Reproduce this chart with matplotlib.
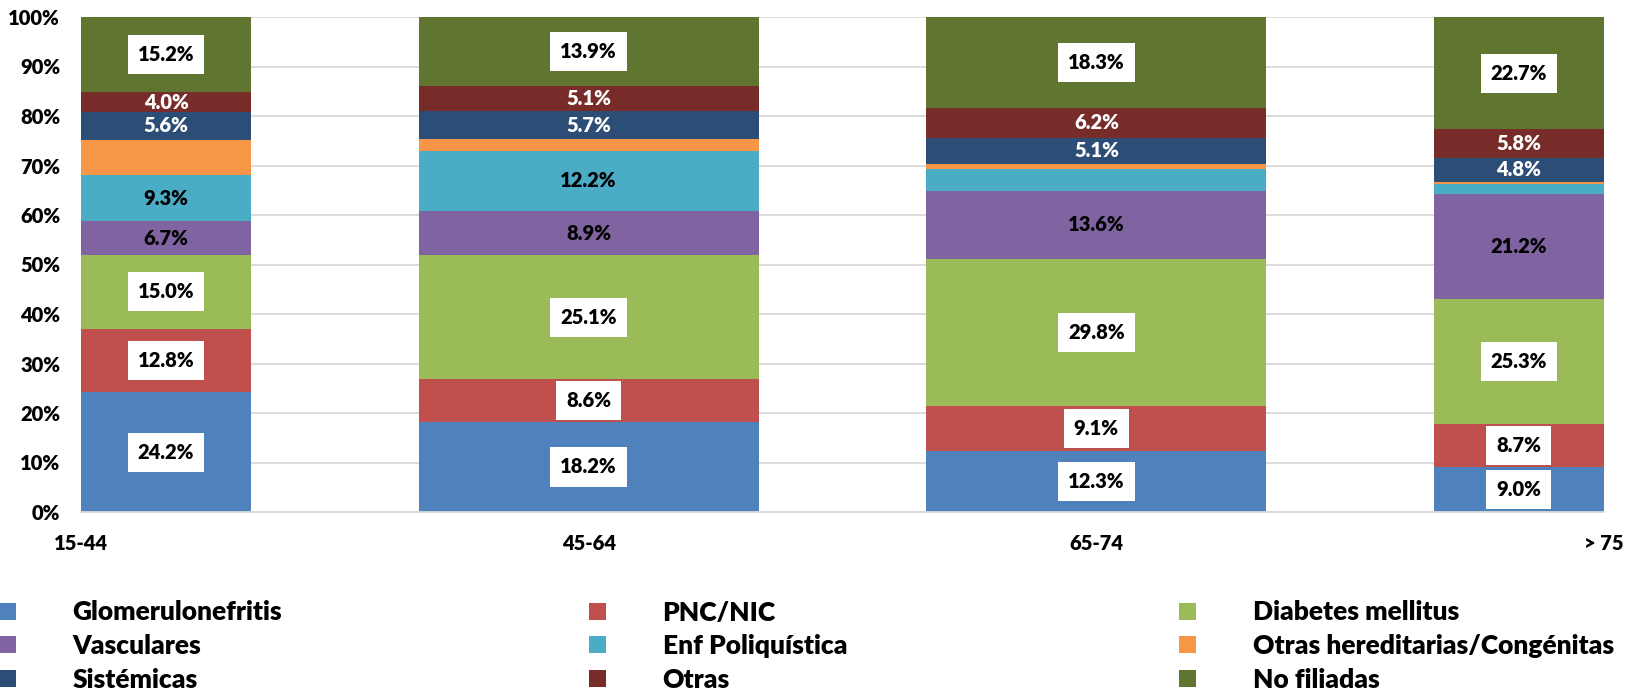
import numpy as np
import matplotlib
matplotlib.use("Agg")
import matplotlib.pyplot as plt
from matplotlib.patches import Patch

plt.rcParams["font.family"] = ["Lato", "DejaVu Sans"]
plt.rcParams["font.weight"] = "heavy"

# Age groups and cause of kidney disease shares (%)
age_groups = ["15-44", "45-64", "65-74", "> 75"]

glomerulonefritis = [24.2, 18.2, 12.3, 9.0]
pnc_nic = [12.8, 8.6, 9.1, 8.7]
diabetes = [15.0, 25.1, 29.8, 25.3]
vasculares = [6.7, 8.9, 13.6, 21.2]
poliquistica = [9.3, 12.2, 4.5, 2.1]
otras_hereditarias = [7.2, 2.3, 1.1, 0.4]
sistemicas = [5.6, 5.7, 5.1, 4.8]
otras = [4.0, 5.1, 6.2, 5.8]
no_filiadas = [15.2, 13.9, 18.3, 22.7]

series_names = [
    "Glomerulonefritis", "PNC/NIC", "Diabetes mellitus",
    "Vasculares", "Enf Poliquística", "Otras hereditarias/Congénitas",
    "Sistémicas", "Otras", "No filiadas",
]
series_values = [
    glomerulonefritis, pnc_nic, diabetes,
    vasculares, poliquistica, otras_hereditarias,
    sistemicas, otras, no_filiadas,
]
colors = [
    "#4F81BD", "#C0504D", "#9BBB59",
    "#8064A2", "#4BACC6", "#F79646",
    "#2C4D75", "#772C2A", "#5F7530",
]
# how each series shows its value: boxed, dark, light or hidden
label_style = ["box", "box", "box", "dark", "dark", None, "light", "light", "box"]
# smallest value that still gets a label, per series
label_min = [0, 0, 0, 0, 5, 0, 0, 0, 0]
WEIGHT = "heavy"

W, H = 1629, 691
fig = plt.figure(figsize=(W / 100, H / 100), dpi=100)
ax = fig.add_axes([81 / W, 1 - 512 / H, (1604 - 81) / W, (512 - 17) / H])

x = np.arange(len(age_groups))
bar_w = 0.67
xlim = (0, len(age_groups) - 1)
bottom = np.zeros(len(age_groups))

for name, vals, col, style, vmin in zip(series_names, series_values, colors,
                                        label_style, label_min):
    vals = np.asarray(vals)
    ax.bar(x, vals, bar_w, bottom=bottom, color=col, label=name, zorder=2)
    if style is not None:
        for xi, v, b in zip(x, vals, bottom):
            if v < vmin:
                continue
            # centre the label on the part of the bar inside the axes
            lo = max(xi - bar_w / 2, xlim[0])
            hi = min(xi + bar_w / 2, xlim[1])
            kw = dict(ha="center", va="center", fontsize=14.5,
                      fontweight=WEIGHT, zorder=4)
            if style == "box":
                kw["bbox"] = dict(boxstyle="square,pad=0.5", fc="white", ec="none")
                kw["color"] = "black"
            elif style == "dark":
                kw["color"] = "black"
            else:
                kw["color"] = "white"
            ax.text((lo + hi) / 2, b + v / 2, f"{v:.1f}%", **kw)
    bottom += vals

ax.set_xlim(*xlim)
ax.set_ylim(0, 100)
ax.set_xticks(x)
ax.set_xticklabels(age_groups)
ax.set_yticks(np.arange(0, 101, 10))
ax.set_yticklabels([f"{v}%" for v in range(0, 101, 10)])
ax.tick_params(axis="y", length=0, pad=15, labelsize=14.5)
ax.tick_params(axis="x", length=0, pad=16, labelsize=14.5)
for lab in ax.get_xticklabels() + ax.get_yticklabels():
    lab.set_fontweight(WEIGHT)

ax.yaxis.grid(True, color="#D9D9D9", lw=1.3)
ax.set_axisbelow(True)
for s in ["top", "right", "left"]:
    ax.spines[s].set_visible(False)
ax.spines["bottom"].set_color("#D9D9D9")
ax.spines["bottom"].set_linewidth(1.3)

# legend: three columns of three entries, laid out row by row
handles = [Patch(facecolor=c, edgecolor="none") for c in colors]
col_x = [-1, 589, 1179]
for i, cx in enumerate(col_x):
    fig.legend(handles[i::3], series_names[i::3], loc="center left",
               bbox_to_anchor=(cx / W, 1 - 646 / H), frameon=False,
               prop=dict(weight=WEIGHT, size=19),
               handlelength=0.64, handleheight=0.64, handletextpad=2.15,
               labelspacing=0.36, borderpad=0, borderaxespad=0)

fig.savefig("out.png", dpi=100)
